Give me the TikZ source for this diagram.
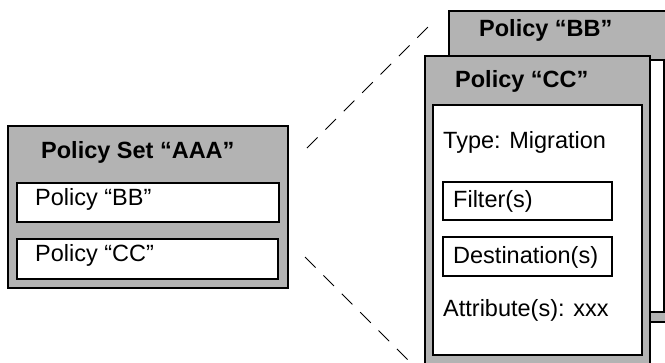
\documentclass[tikz,border=0pt]{standalone}
\usepackage{fontspec}
\setmainfont{Liberation Sans}
\definecolor{boxgray}{RGB}{179,179,179}
\begin{document}
\begin{tikzpicture}[x=1pt,y=-1pt,
 box/.style={draw=black, line width=1.6pt, anchor=north west, inner sep=0pt, outer sep=0pt},
 graybox/.style={box, fill=boxgray},
 whitebox/.style={box, fill=white},
 txt/.style={anchor=base west, inner sep=0pt, font=\fontsize{23.5}{27}\selectfont},
 ttl/.style={anchor=base west, inner sep=0pt, font=\fontsize{23.5}{27}\selectfont\bfseries},
 conn/.style={draw=black, dash pattern=on 15pt off 11pt, line width=0.9pt}]
\useasboundingbox (0,0) rectangle (665,362);
\clip (0,0) rectangle (665,362);
% left policy set
\node[graybox, minimum width=280pt, minimum height=162pt] (set) at (8,126) {};
\node[whitebox, minimum width=262pt, minimum height=39pt] (setbb) at (17,183) {};
\node[whitebox, minimum width=261pt, minimum height=40pt] (setcc) at (17,239) {};
\node[ttl] (settitle) at (41,158) {Policy Set “AAA”};
\node[txt] (setbbtxt) at (35,205) {Policy “BB”};
\node[txt] (setcctxt) at (35,261) {Policy “CC”};
% back policy BB
\node[graybox, minimum width=240pt, minimum height=311pt] (bb) at (449,11) {};
\node[whitebox, minimum width=204pt, minimum height=252pt] (bbin) at (460,60) {};
\node[ttl] (bbtitle) at (479,36) {Policy “BB”};
% front policy CC
\node[graybox, minimum width=225pt, minimum height=320pt] (cc) at (425,56) {};
\node[whitebox, minimum width=209pt, minimum height=250pt] (ccin) at (433,105) {};
\node[ttl] (cctitle) at (455,87) {Policy “CC”};
\node[txt] (type) at (443,148) {Type: Migration};
\node[whitebox, minimum width=169pt, minimum height=38pt] (filter) at (443,182) {};
\node[txt] (filtertxt) at (453,207) {Filter(s)};
\node[whitebox, minimum width=169pt, minimum height=39pt] (dest) at (443,237) {};
\node[txt] (desttxt) at (453,263) {Destination(s)};
\node[txt] (attr) at (443,316) {Attribute(s): xxx};
% zoom lines
\coordinate (u1) at (307,148);
\coordinate (u2) at (428,27);
\coordinate (l1) at (305,257);
\coordinate (l2) at (412,364);
\draw[conn] (u1) -- (u2);
\draw[conn] (l1) -- (l2);
\end{tikzpicture}
\end{document}
